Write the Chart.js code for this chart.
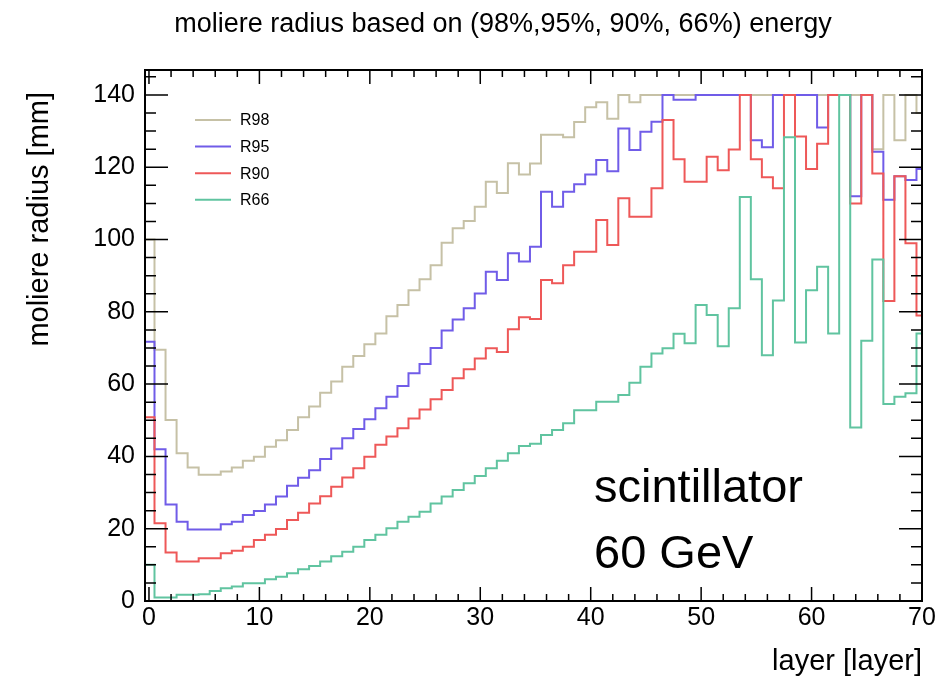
<!DOCTYPE html>
<html>
<head>
<meta charset="utf-8">
<script src="https://cdn.jsdelivr.net/npm/chart.js@4"></script>
<style>
  html, body { margin: 0; padding: 0; background: #fff; }
  #wrap { width: 940px; height: 687px; }
</style>
</head>
<body>
<div id="wrap"><canvas id="moliereChart"></canvas></div>
<script>
// layer number = bin centre
const layers = [0, 1, 2, 3, 4, 5, 6, 7, 8, 9, 10, 11, 12, 13, 14, 15, 16, 17, 18, 19,
  20, 21, 22, 23, 24, 25, 26, 27, 28, 29, 30, 31, 32, 33, 34, 35, 36, 37, 38, 39,
  40, 41, 42, 43, 44, 45, 46, 47, 48, 49, 50, 51, 52, 53, 54, 55, 56, 57, 58, 59,
  60, 61, 62, 63, 64, 65, 66, 67, 68, 69, 70];

// moliere radius [mm] containing 98/95/90/66 % of the energy
const r98 = [100, 69.5, 50.1, 40.9, 36.9, 34.9, 34.9, 35.8, 36.9, 38.8,
  39.9, 42.7, 44.5, 47.3, 50.8, 53.8, 57.6, 60.7, 64.8, 67.8,
  71.0, 74.0, 78.8, 81.9, 86.0, 89.0, 92.9, 99.1, 103.1, 105.1,
  109.1, 116.0, 112.9, 121.1, 118.0, 121.0, 129.0, 129.0, 128.3, 132.5,
  136.6, 138.0, 133.4, 140, 138, 140, 140, 140, 140, 140,
  140, 140, 140, 140, 140, 140, 140, 140, 140, 140,
  140, 140, 140, 140, 140, 140, 125, 140, 127.5, 140, 135];

const r95 = [71.7, 42.0, 26.7, 21.9, 19.8, 19.8, 19.8, 21.2, 21.9, 23.8,
  24.9, 26.7, 28.9, 31.9, 34.1, 36.2, 39.3, 42.2, 45.0, 47.6,
  50.3, 53.3, 56.5, 59.5, 63.0, 65.6, 70.0, 74.8, 77.9, 81.0,
  85.1, 91.1, 88.8, 96.2, 93.9, 98.0, 113.2, 109.1, 113.2, 115.3,
  118.0, 122.0, 118.9, 130.7, 124.8, 129.8, 132.6, 140, 138.7, 138.7,
  140, 140, 140, 140, 140, 127.5, 125.5, 140, 140, 140,
  140, 131, 140, 140, 112, 140, 124.3, 111, 117.5, 116.5, 119.5];

const r90 = [50.8, 21.5, 13.4, 10.9, 10.9, 11.8, 11.8, 13.2, 13.9, 15.0,
  16.9, 18.3, 19.9, 22.4, 24.4, 27.0, 29.0, 31.6, 34.2, 36.7,
  39.9, 43.2, 45.5, 47.8, 50.5, 53.0, 55.8, 58.4, 61.6, 64.1,
  67.1, 69.9, 68.9, 75.2, 78.5, 78.0, 88.8, 87.9, 92.9, 96.6,
  96.6, 105.4, 98.5, 111.4, 106.3, 106.3, 114.2, 133.1, 122.2, 116.0,
  116.0, 122.9, 119.2, 124.9, 140, 122.2, 117.2, 114.2, 140, 128.5,
  119.5, 126.5, 140, 140, 110, 140, 118.3, 83, 117.5, 99, 79];

const r66 = [10, 1.0, 1.0, 1.7, 1.7, 1.9, 2.8, 3.5, 4.0, 4.9,
  4.9, 6.0, 6.7, 7.7, 8.8, 9.7, 10.9, 12.4, 13.6, 15.0,
  16.9, 18.3, 20.1, 21.9, 23.3, 24.7, 27.0, 28.9, 30.7, 32.6,
  34.6, 36.7, 38.8, 40.9, 42.9, 43.5, 45.9, 47.3, 49.2, 52.8,
  52.8, 55.1, 55.1, 57.0, 60.4, 64.8, 68.5, 69.9, 73.9, 71.3,
  81.9, 79.1, 70.5, 81.0, 111.8, 89.0, 68.0, 83.1, 128.3, 71.5,
  86, 92.5, 74, 140, 48, 72, 94.5, 54.5, 56.5, 57.5, 74];

const xTicks = [0, 10, 20, 30, 40, 50, 60, 70];
const yTicks = [0, 20, 40, 60, 80, 100, 120, 140];

const FONT = '"Liberation Sans", Arial, Helvetica, sans-serif';
Chart.defaults.font.family = FONT;
Chart.defaults.color = '#000';

// histogram outline: one point per bin low edge, plus the last high edge
function histSteps(values) {
  const pts = values.map((v, i) => ({ x: layers[i] - 0.5, y: v }));
  pts.push({ x: layers[layers.length - 1] + 0.5, y: values[values.length - 1] });
  return pts;
}

function histo(label, values, color, order) {
  return {
    label: label,
    data: histSteps(values),
    borderColor: color,
    borderWidth: 2,
    pointRadius: 0,
    stepped: 'before',
    fill: false,
    clip: 0,
    order: order,
  };
}

// ROOT style frame with inner ticks, legend and texts
const rootDecor = {
  id: 'rootDecor',
  afterDatasetsDraw(chart) {
    const { ctx, chartArea: a, scales: { x, y } } = chart;
    ctx.save();
    ctx.strokeStyle = '#000';
    ctx.lineWidth = 1.5;
    ctx.beginPath();
    for (let v = 0; v <= 70; v += 2) {
      const px = x.getPixelForValue(v);
      const len = v % 10 === 0 ? 14 : 7;
      ctx.moveTo(px, a.bottom); ctx.lineTo(px, a.bottom - len);
      ctx.moveTo(px, a.top); ctx.lineTo(px, a.top + len);
    }
    for (let v = 0; v <= 145; v += 5) {
      const py = y.getPixelForValue(v);
      const len = v % 20 === 0 ? 23 : 11;
      ctx.moveTo(a.left, py); ctx.lineTo(a.left + len, py);
      ctx.moveTo(a.right, py); ctx.lineTo(a.right - len, py);
    }
    ctx.stroke();
    ctx.lineWidth = 2;
    ctx.strokeRect(a.left, a.top, a.right - a.left, a.bottom - a.top);

    // legend
    ctx.font = '16px ' + FONT;
    ctx.textBaseline = 'middle';
    ctx.textAlign = 'left';
    chart.data.datasets.forEach((ds, i) => {
      const ly = 120 + i * 26.6;
      ctx.strokeStyle = ds.borderColor;
      ctx.lineWidth = 2;
      ctx.beginPath();
      ctx.moveTo(195, ly); ctx.lineTo(231, ly);
      ctx.stroke();
      ctx.fillStyle = '#000';
      ctx.fillText(ds.label, 240, ly + 1);
    });

    // annotation
    ctx.font = '47px ' + FONT;
    ctx.textBaseline = 'alphabetic';
    ctx.fillText('scintillator', 594, 502);
    ctx.fillText('60 GeV', 594, 568);

    // title, centred on the pad
    ctx.font = '27px ' + FONT;
    ctx.textAlign = 'center';
    ctx.textBaseline = 'middle';
    ctx.fillText('moliere radius based on (98%,95%, 90%, 66%) energy', 503, 25);

    // y axis title, aligned to the top of the axis
    ctx.font = '29px ' + FONT;
    ctx.translate(40, 92);
    ctx.rotate(-Math.PI / 2);
    ctx.textAlign = 'right';
    ctx.textBaseline = 'middle';
    ctx.fillText('moliere radius [mm]', 0, 0);
    ctx.restore();
  }
};

new Chart(document.getElementById('moliereChart'), {
  type: 'line',
  data: {
    datasets: [
      histo('R98', r98, 'rgb(198, 193, 166)', 4),
      histo('R95', r95, 'rgb(112, 92, 232)', 3),
      histo('R90', r90, 'rgb(238, 88, 88)', 2),
      histo('R66', r66, 'rgb(96, 196, 160)', 1),
    ],
  },
  options: {
    responsive: true,
    maintainAspectRatio: false,
    animation: false,
    layout: { padding: { left: 0, right: 18, top: 70, bottom: 0 } },
    scales: {
      x: {
        type: 'linear',
        min: -0.36,
        max: 70,
        afterBuildTicks: (s) => { s.ticks = xTicks.map((v) => ({ value: v })); },
        afterFit: (s) => { s.height = 86; },
        grid: { display: false, drawTicks: false },
        border: { display: false },
        ticks: { font: { size: 25 }, color: '#000', padding: 2, maxRotation: 0, autoSkip: false },
        title: {
          display: true,
          text: 'layer [layer]',
          align: 'end',
          font: { size: 29 },
          color: '#000',
          padding: { top: 0, bottom: 8 },
        },
      },
      y: {
        type: 'linear',
        min: 0,
        max: 146.9,
        afterBuildTicks: (s) => { s.ticks = yTicks.map((v) => ({ value: v })); },
        afterFit: (s) => { s.width = 145; },
        grid: { display: false, drawTicks: false },
        border: { display: false },
        ticks: { font: { size: 25 }, color: '#000', padding: 10, autoSkip: false },
      },
    },
    plugins: {
      legend: { display: false },
      tooltip: { enabled: false },
      title: { display: false },
    },
  },
  plugins: [rootDecor],
});
</script>
</body>
</html>
